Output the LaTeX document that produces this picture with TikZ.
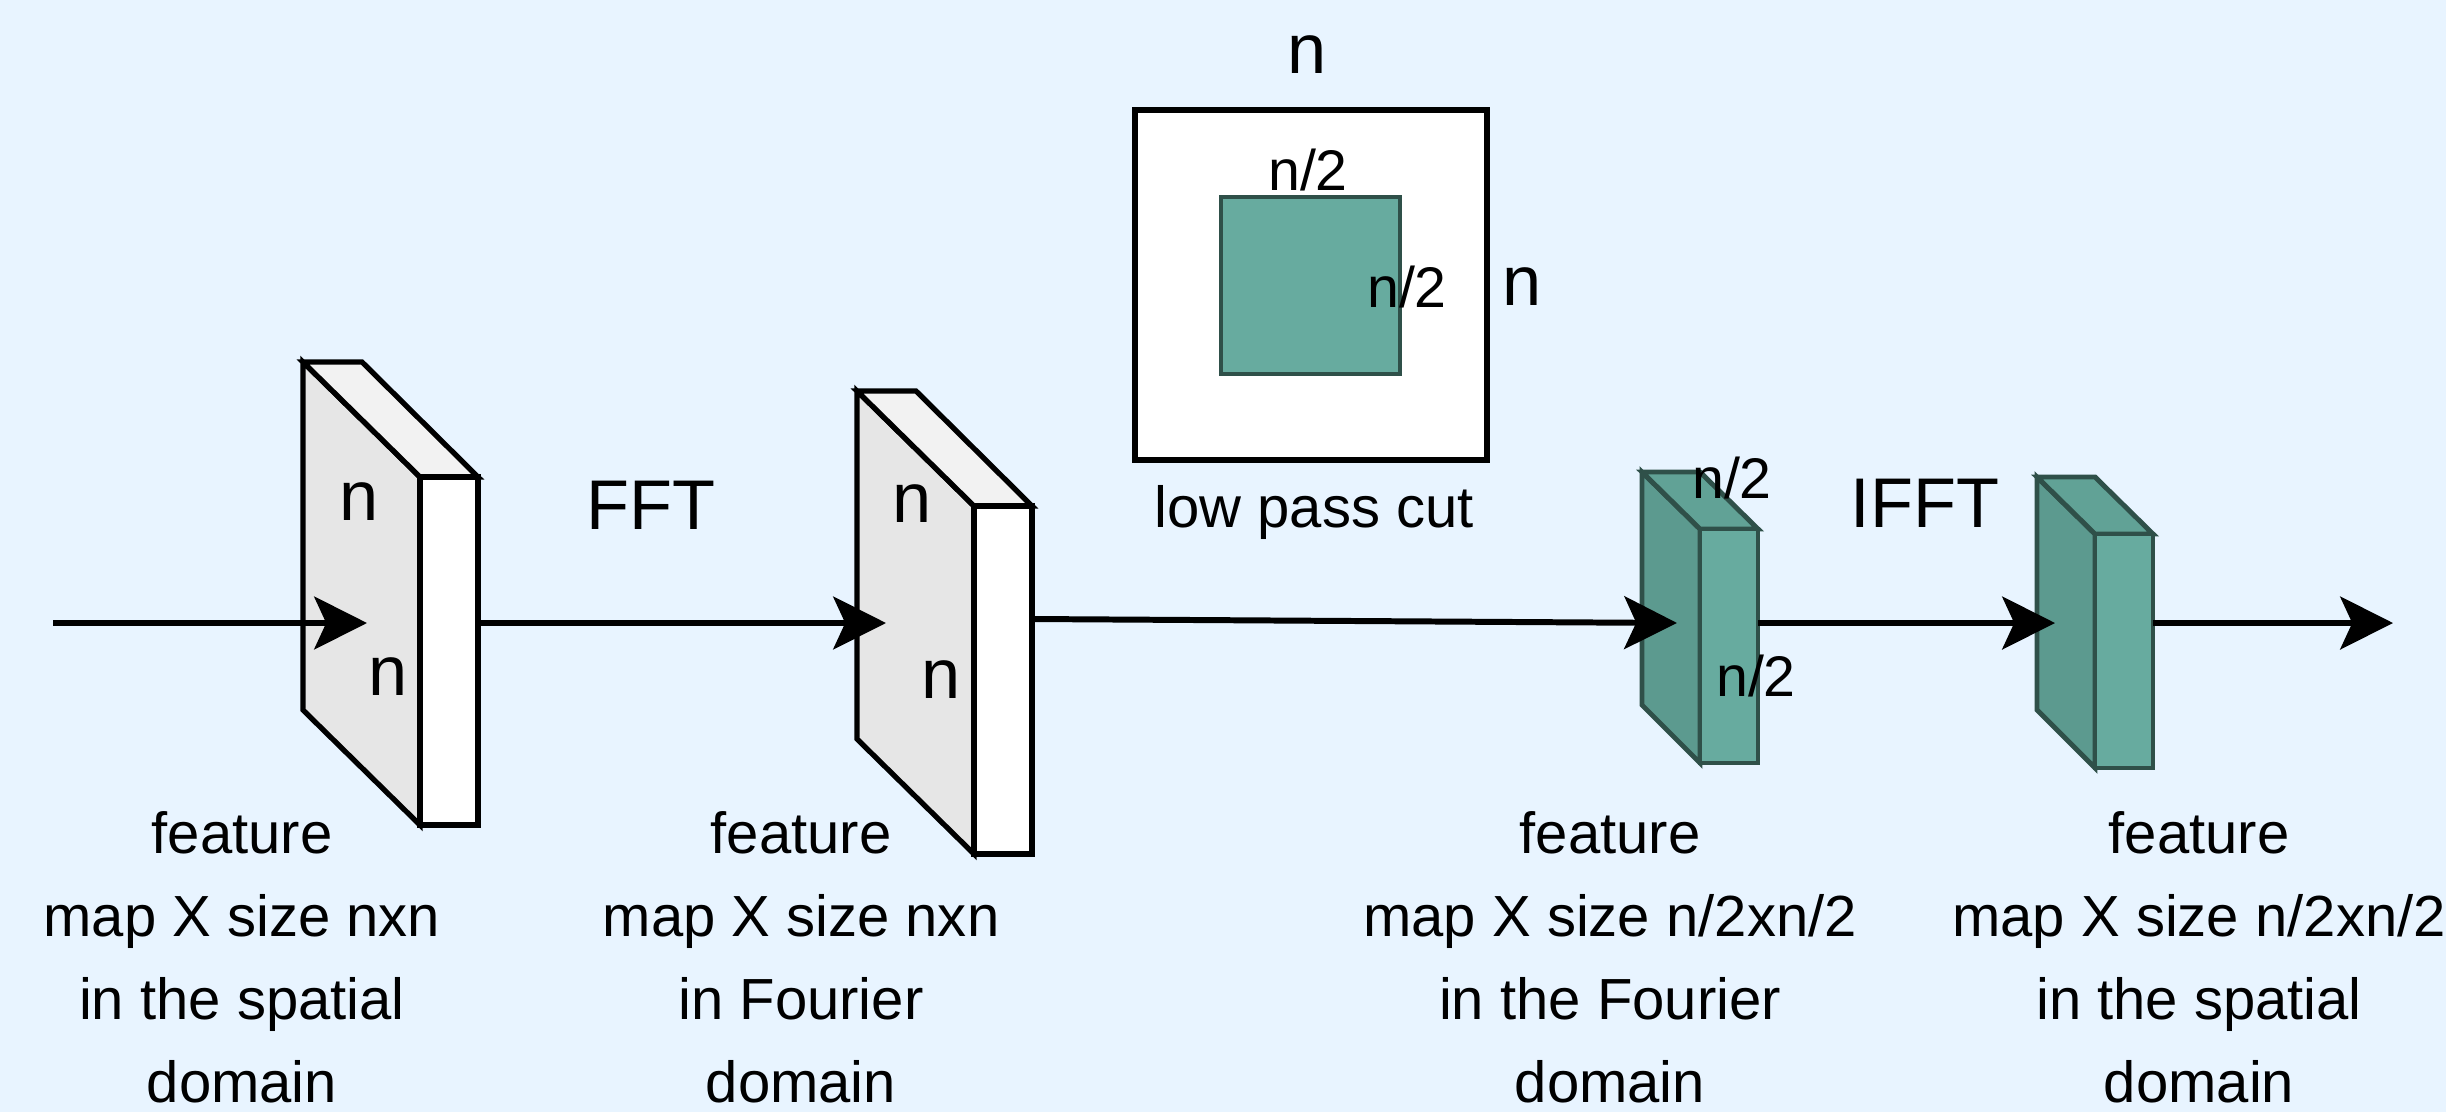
\documentclass[tikz,border=0pt]{standalone}
\usepackage{fontspec}
\setmainfont{Liberation Sans}
\usetikzlibrary{arrows.meta}
\definecolor{bgc}{HTML}{E8F4FF}
\definecolor{tealf}{HTML}{67AB9F}
\definecolor{teall}{HTML}{5C9A8F}
\definecolor{tealt}{HTML}{61A296}
\definecolor{tealdk}{HTML}{2F5049}
\definecolor{grayl}{HTML}{E6E6E6}
\definecolor{grayt}{HTML}{F2F2F2}
\begin{document}
\begin{tikzpicture}[x=0.01cm,y=-0.01cm,
  grayface/.style={draw=black, line width=1.5pt, line join=miter},
  tealface/.style={draw=tealdk, line width=1.4pt, line join=miter},
  conn/.style={line width=1.7pt, -{Stealth[length=15pt,width=15pt,inset=3.4pt]}},
  bigt/.style={font=\fontsize{20}{24}\selectfont, inner sep=0pt, anchor=base},
  midt/.style={font=\fontsize{16.3}{20}\selectfont, inner sep=0pt, anchor=base},
  captext/.style={font=\fontsize{16.5}{23.6}\selectfont, inner sep=0pt, anchor=north, align=center}]
\fill[bgc] (0,0) rectangle (2446,1112);
\useasboundingbox (0,0) rectangle (2446,1112);

% ---- box 1 (spatial, gray)
\filldraw[grayface, fill=grayl] (303,362) -- (420,477) -- (420,825) -- (303,710) -- cycle;
\filldraw[grayface, fill=grayt] (303,362) -- (362,362) -- (478,477) -- (420,477) -- cycle;
\filldraw[grayface, fill=white] (420,477) rectangle (478,825);

% ---- box 2 (Fourier, gray)
\begin{scope}[shift={(554,29)}]
\filldraw[grayface, fill=grayl] (303,362) -- (420,477) -- (420,825) -- (303,710) -- cycle;
\filldraw[grayface, fill=grayt] (303,362) -- (362,362) -- (478,477) -- (420,477) -- cycle;
\filldraw[grayface, fill=white] (420,477) rectangle (478,825);
\end{scope}

% ---- box 3 (Fourier, teal)
\filldraw[tealface, fill=teall] (1642,472) -- (1700,529) -- (1700,763) -- (1642,705) -- cycle;
\filldraw[tealface, fill=tealt] (1642,472) -- (1700,472) -- (1758,529) -- (1700,529) -- cycle;
\filldraw[tealface, fill=tealf] (1700,529) rectangle (1758,763);

% ---- box 4 (spatial, teal)
\begin{scope}[shift={(395,5)}]
\filldraw[tealface, fill=teall] (1642,472) -- (1700,529) -- (1700,763) -- (1642,705) -- cycle;
\filldraw[tealface, fill=tealt] (1642,472) -- (1700,472) -- (1758,529) -- (1700,529) -- cycle;
\filldraw[tealface, fill=tealf] (1700,529) rectangle (1758,763);
\end{scope}

% ---- low pass cut
\filldraw[draw=black, line width=1.5pt, fill=white] (1135,110) rectangle (1487,460);
\filldraw[draw=tealdk, line width=1.4pt, fill=tealf] (1221,197) rectangle (1400,374);

% ---- connector end points
\coordinate (src)   at (53,623);
\coordinate (b1in)  at (367,623);
\coordinate (b1out) at (478,623);
\coordinate (b2in)  at (886,623);
\coordinate (b2out) at (1032,619);
\coordinate (b3in)  at (1677,623);
\coordinate (b3out) at (1758,623);
\coordinate (b4in)  at (2055,623);
\coordinate (b4out) at (2153,623);
\coordinate (sink)  at (2393,623);

\draw[conn] (src) -- (b1in);
\draw[conn] (b1out) -- (b2in);
\draw[conn] (b2out) -- (b3in);
\draw[conn] (b3out) -- (b4in);
\draw[conn] (b4out) -- (sink);

% ---- labels
\node[bigt] (n1a) at (359,520) {n};
\node[bigt] (n1b) at (388,695) {n};
\node[bigt] (n2a) at (912,522) {n};
\node[bigt] (n2b) at (941,698) {n};
\node[bigt] (fft) at (651,529) {FFT};
\node[bigt] (ifft) at (1925,527) {IFFT};
\node[bigt] (ntop) at (1307,73) {n};
\node[bigt] (nright) at (1522,305) {n};
\node[midt] (h2top) at (1308,190) {n/2};
\node[midt] (h2right) at (1407,307) {n/2};
\node[captext, anchor=base] (lpc) at (1314,527) {low pass cut};
\node[midt] (h3top) at (1732,498) {n/2};
\node[midt] (h3bot) at (1756,696) {n/2};

\node[captext] (cap1) at (242,811) {feature\\map X size nxn\\in the spatial\\domain};
\node[captext] (cap2) at (801,811) {feature\\map X size nxn\\in Fourier\\domain};
\node[captext] (cap3) at (1610,811) {feature\\map X size n/2xn/2\\in the Fourier\\domain};
\node[captext] (cap4) at (2199,811) {feature\\map X size n/2xn/2\\in the spatial\\domain};
\end{tikzpicture}
\end{document}
